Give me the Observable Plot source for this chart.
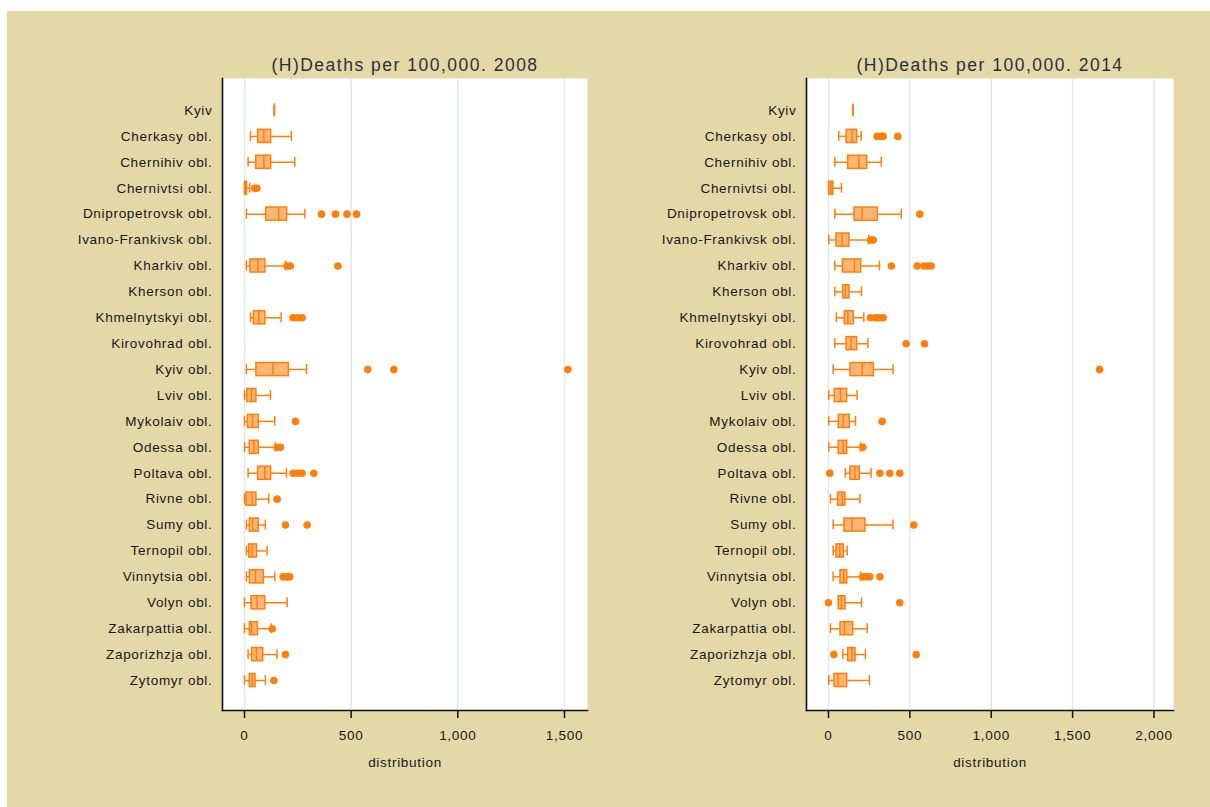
<!DOCTYPE html>
<html>
<head>
<meta charset="utf-8">
<script src="https://cdn.jsdelivr.net/npm/d3@7"></script>
<script src="https://cdn.jsdelivr.net/npm/@observablehq/plot@0.6"></script>
<style>
  html, body { margin: 0; padding: 0; background: #ffffff; }
  #page { position: relative; width: 1210px; height: 807px; overflow: hidden; background: #ffffff; }
  #bg { position: absolute; left: 7px; top: 11px; width: 1203px; height: 796px; background: #e4d8a6; }
  .panel { position: absolute; top: 11px; }
  .panel svg { background: transparent !important; font-family: "Liberation Sans", Arial, sans-serif; }
  .panel svg text { letter-spacing: 0.7px; }
  .panel svg g.ttl text { letter-spacing: 1.5px; }
</style>
</head>
<body>
<div id="page">
  <div id="bg"></div>
  <div id="left" class="panel" style="left:7px"></div>
  <div id="right" class="panel" style="left:600px"></div>
</div>
<script>
// ---------- Data ----------
const regions = ["Kyiv", "Cherkasy obl.", "Chernihiv obl.", "Chernivtsi obl.", "Dnipropetrovsk obl.",
  "Ivano-Frankivsk obl.", "Kharkiv obl.", "Kherson obl.", "Khmelnytskyi obl.", "Kirovohrad obl.",
  "Kyiv obl.", "Lviv obl.", "Mykolaiv obl.", "Odessa obl.", "Poltava obl.", "Rivne obl.",
  "Sumy obl.", "Ternopil obl.", "Vinnytsia obl.", "Volyn obl.", "Zakarpattia obl.",
  "Zaporizhzja obl.", "Zytomyr obl."];

// 2008 (null = no data)
const lo2008  = [140, 28, 17, 0, 9, null, 9, null, 28, null, 9, 0, 0, 0, 17, 0, 9, 9, 9, 0, 0, 17, 0];
const q1_2008 = [140, 64, 55, 3, 102, null, 28, null, 44, null, 56, 13, 16, 25, 64, 9, 25, 22, 25, 33, 25, 36, 25];
const med2008 = [140, 91, 91, 6, 161, null, 63, null, 67, null, 134, 33, 37, 44, 95, 36, 38, 36, 52, 59, 33, 56, 36];
const q3_2008 = [140, 125, 125, 12, 200, null, 98, null, 98, null, 208, 56, 67, 67, 125, 56, 67, 59, 91, 98, 63, 88, 52];
const hi2008  = [140, 220, 236, 25, 283, null, 192, null, 172, null, 291, 122, 142, 145, 197, 114, 98, 106, 142, 200, 125, 153, 98];
const out2008 = [[], [], [], [48, 58], [361, 427, 481, 525], [], [200, 215, 438], [], [228, 247, 270], [],
  [578, 700, 1516], [], [239], [153, 169], [228, 250, 270, 325], [153], [192, 294], [],
  [181, 192, 203, 212], [], [130], [192], [138]];

// 2014
const lo2014  = [150, 63, 39, 0, 39, 2, 39, 39, 49, 39, 29, 2, 2, 2, 104, 12, 29, 29, 29, 63, 12, 88, 2];
const q1_2014 = [150, 111, 121, 5, 160, 49, 88, 90, 100, 111, 135, 39, 63, 63, 135, 59, 98, 49, 74, 63, 74, 121, 37];
const med2014 = [150, 145, 187, 15, 207, 84, 160, 104, 119, 139, 207, 74, 90, 90, 162, 84, 145, 70, 94, 80, 98, 145, 59];
const q3_2014 = [150, 176, 238, 30, 303, 129, 201, 129, 156, 176, 279, 115, 131, 115, 193, 104, 227, 94, 115, 105, 152, 166, 115];
const hi2014  = [150, 201, 324, 80, 447, 248, 313, 203, 217, 242, 397, 176, 166, 197, 262, 193, 397, 115, 197, 203, 238, 227, 252];
const out2014 = [[], [299, 324, 336, 426], [], [], [561], [258, 275], [387, 545, 586, 610, 631], [],
  [258, 289, 309, 336], [477, 590], [1666], [], [330], [211], [8, 316, 377, 438], [], [524], [],
  [211, 233, 254, 316], [0, 438], [], [33, 539], []];

const ticks2008 = [0, 500, 1000, 1500];
const ticks2014 = [0, 500, 1000, 1500, 2000];
const titles = ["(H)Deaths per 100,000. 2008", "(H)Deaths per 100,000. 2014"];
const xLabel = "distribution";

// ---------- Drawing ----------
const ORANGE = "#ff7f0a";
const FILL = "#ffb674";
const TEXT = "#15171f";

function buildBoxes(lo, q1, med, q3, hi) {
  return regions.map((r, i) => ({region: r, lo: lo[i], q1: q1[i], med: med[i], q3: q3[i], hi: hi[i]}))
    .filter(d => d.med != null);
}
function buildOutliers(out) {
  return out.flatMap((vals, i) => vals.map(v => ({region: regions[i], value: v})));
}

function panel({width, height, marginLeft, marginRight, marginTop, marginBottom, domain, ticks, boxes, outliers, title}) {
  const rowTop = 110 - 11, rowBottom = 680 - 11;
  const step = (rowBottom - rowTop) / (regions.length - 1);
  return Plot.plot({
    width, height, marginLeft, marginRight, marginTop, marginBottom,
    style: {fontFamily: "'Liberation Sans', Arial, sans-serif", fontSize: "13.5px", color: TEXT, background: "transparent"},
    x: {domain, ticks},
    y: {type: "band", domain: regions, range: [rowTop - step / 2, rowBottom + step / 2], padding: 0, round: false},
    marks: [
      Plot.frame({fill: "white", stroke: null}),
      Plot.gridX(ticks, {stroke: "#e1e9ef", strokeOpacity: 1, strokeWidth: 1.5}),
      Plot.ruleY(boxes, {y: "region", x1: "lo", x2: "hi", stroke: ORANGE, strokeWidth: 1.5}),
      Plot.tickX(boxes, {y: "region", x: "lo", stroke: ORANGE, strokeWidth: 1.5, insetTop: 8, insetBottom: 8}),
      Plot.tickX(boxes, {y: "region", x: "hi", stroke: ORANGE, strokeWidth: 1.5, insetTop: 8, insetBottom: 8}),
      Plot.barX(boxes, {y: "region", x1: "q1", x2: "q3", fill: FILL, stroke: ORANGE, strokeWidth: 1.5, insetTop: 6.4, insetBottom: 6.4}),
      Plot.tickX(boxes, {y: "region", x: "med", stroke: ORANGE, strokeWidth: 1.5, insetTop: 6.4, insetBottom: 6.4}),
      Plot.dot(outliers, {y: "region", x: "value", r: 3.8, fill: ORANGE, stroke: null}),
      Plot.frame({anchor: "left", stroke: "#111", strokeWidth: 1.6}),
      Plot.frame({anchor: "bottom", stroke: "#111", strokeWidth: 1.6}),
      Plot.axisY({tickSize: 0, tickPadding: 10, label: null, fontSize: 13.5, fill: TEXT}),
      Plot.axisX({ticks, tickSize: 8, tickPadding: 12, tickFormat: d3.format(","), label: null, fontSize: 13.5, fill: TEXT, stroke: "#111", strokeWidth: 1.5}),
      Plot.text([title], {frameAnchor: "top", dy: -13, fontSize: 17.5, fill: "#2a3040", lineAnchor: "middle", className: "ttl"}),
      Plot.text([xLabel], {frameAnchor: "bottom", dy: 52, fontSize: 13.5, fill: TEXT, lineAnchor: "middle"})
    ]
  });
}

document.getElementById("left").append(panel({
  width: 593, height: 789, marginLeft: 215, marginRight: 13, marginTop: 67, marginBottom: 90,
  domain: [-103, 1608], ticks: ticks2008,
  boxes: buildBoxes(lo2008, q1_2008, med2008, q3_2008, hi2008),
  outliers: buildOutliers(out2008), title: titles[0]
}));
document.getElementById("right").append(panel({
  width: 610, height: 789, marginLeft: 206, marginRight: 37, marginTop: 67, marginBottom: 90,
  domain: [-135, 2120], ticks: ticks2014,
  boxes: buildBoxes(lo2014, q1_2014, med2014, q3_2014, hi2014),
  outliers: buildOutliers(out2014), title: titles[1]
}));
</script>
</body>
</html>
